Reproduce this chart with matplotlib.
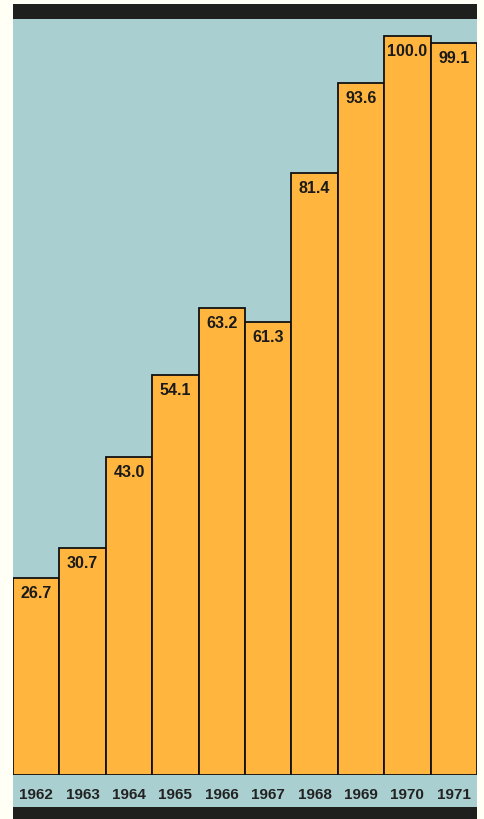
import matplotlib.pyplot as plt
from matplotlib.patches import Rectangle

years = ['1962', '1963', '1964', '1965', '1966', '1967', '1968', '1969', '1970', '1971']
values = [26.7, 30.7, 43.0, 54.1, 63.2, 61.3, 81.4, 93.6, 100.0, 99.1]
labels = ['26.7', '30.7', '43.0', '54.1', '63.2', '61.3', '81.4', '93.6', '100.0', '99.1']

W, H = 485, 820
blue = '#a9cfd0'
orange = '#ffb53e'
dark = '#1f1f1d'

plt.rcParams['font.family'] = ['Liberation Sans', 'DejaVu Sans']

fig = plt.figure(figsize=(W / 100, H / 100), dpi=100)
fig.patch.set_facecolor('#fffff6')

def px_rect(x0, y0, x1, y1, color):
    # rectangle in pixel coords measured from the top-left corner
    fig.patches.append(Rectangle((x0 / W, 1 - y1 / H), (x1 - x0) / W, (y1 - y0) / H,
                                 transform=fig.transFigure, facecolor=color,
                                 edgecolor='none', zorder=-5))

px_rect(13, 5, 477, 20, dark)
px_rect(13, 776, 477, 808, blue)
px_rect(13, 808, 477, 820, dark)

ax = fig.add_axes([13 / W, (H - 776) / H, 464 / W, 756 / H])
ax.set_zorder(2)
ax.set_facecolor(blue)
x = range(len(years))
ax.bar(x, values, width=1.0, color=orange, edgecolor='#111111', linewidth=1.3)
ax.set_xlim(-0.5, len(years) - 0.5)
ax.set_ylim(0, 102.3)
for s in ax.spines.values():
    s.set_visible(False)
ax.set_yticks([])
ax.set_xticks(list(x))
ax.set_xticklabels(years, fontsize=11, fontweight='bold', color='#222222')
ax.tick_params(axis='x', length=0, pad=9)

for i, (v, lab) in enumerate(zip(values, labels)):
    ax.annotate(lab, (i, v), xytext=(0, -5), textcoords='offset points',
                ha='center', va='top', fontsize=11.5, fontweight='bold', color='#1a1a1a')

fig.savefig('out.png', dpi=100, facecolor=fig.get_facecolor())
